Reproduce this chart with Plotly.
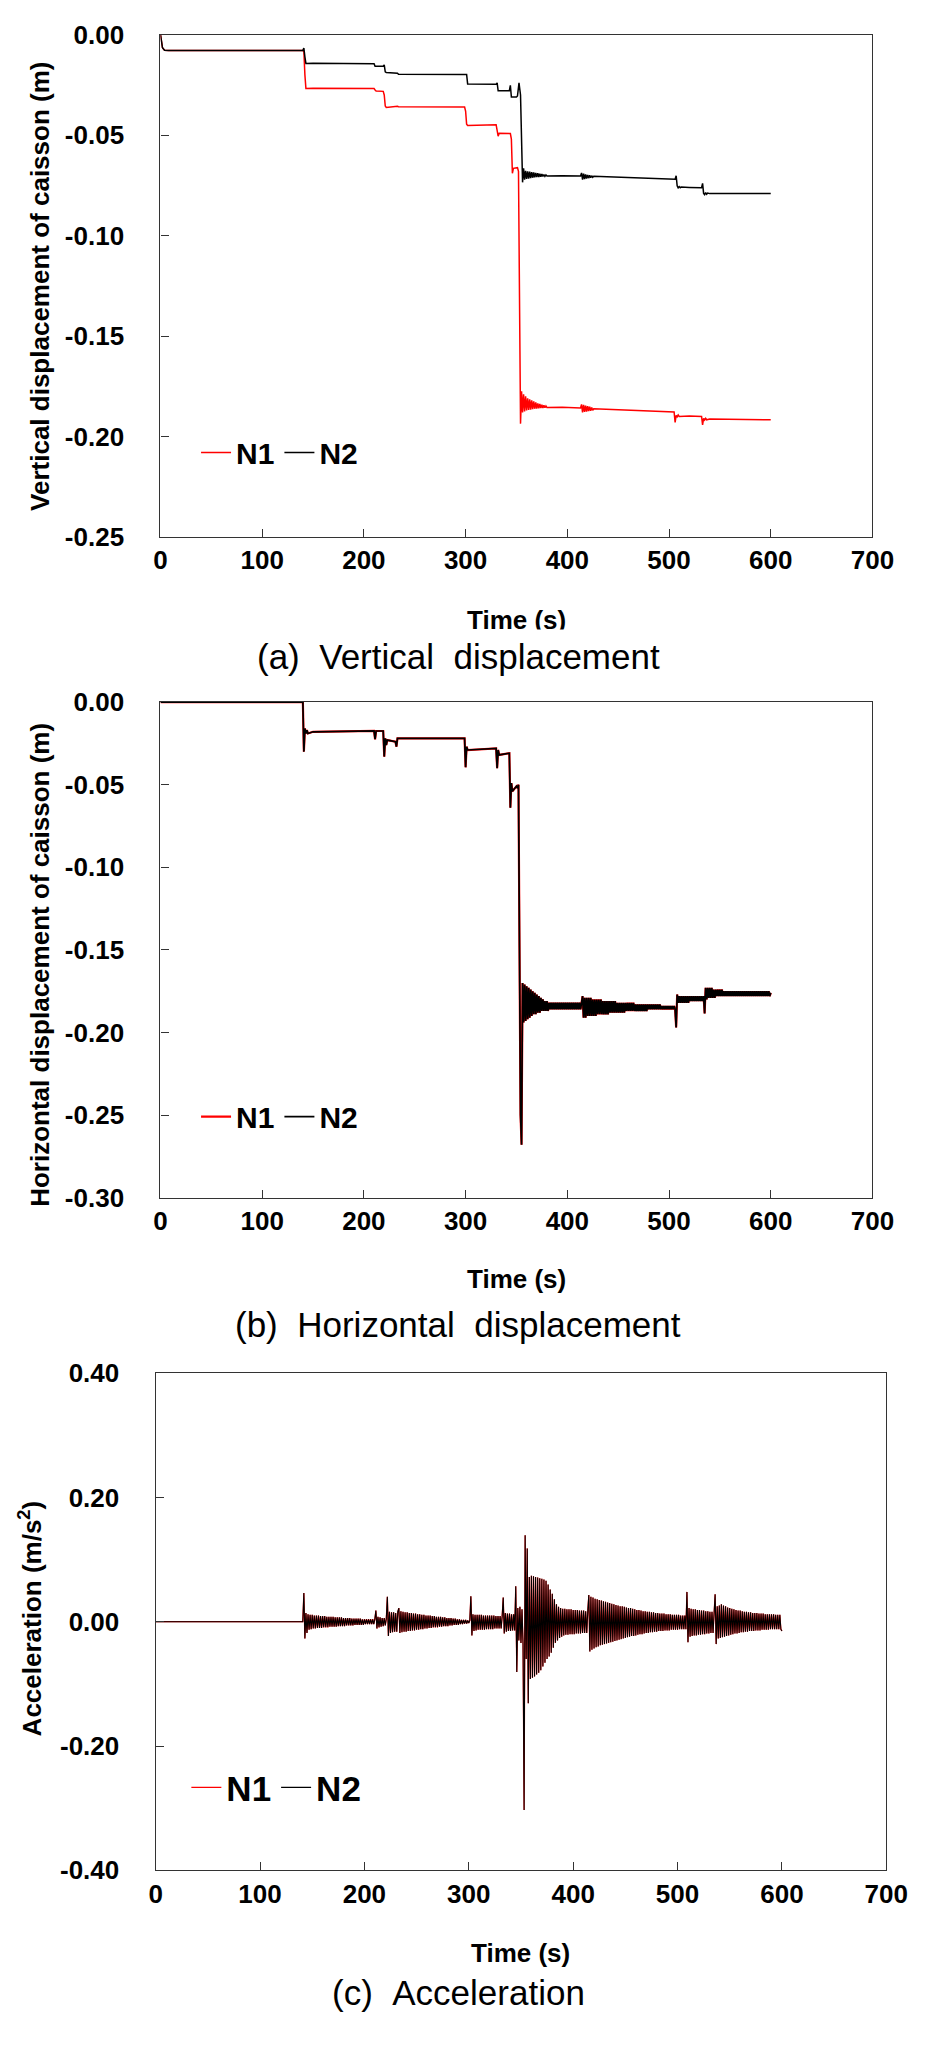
import plotly.graph_objects as go

# ---------------- data ----------------
time_ticks = [0, 100, 200, 300, 400, 500, 600, 700]
time_ticktext = ["0", "100", "200", "300", "400", "500", "600", "700"]

vert_ticks = [0.0, -0.05, -0.10, -0.15, -0.20, -0.25]
vert_ticktext = ["0.00", "-0.05", "-0.10", "-0.15", "-0.20", "-0.25"]
horiz_ticks = [0.0, -0.05, -0.10, -0.15, -0.20, -0.25, -0.30]
horiz_ticktext = ["0.00", "-0.05", "-0.10", "-0.15", "-0.20", "-0.25", "-0.30"]
acc_ticks = [0.40, 0.20, 0.0, -0.20, -0.40]
acc_ticktext = ["0.40", "0.20", "0.00", "-0.20", "-0.40"]

# (a) vertical displacement, N1 (red)
vert_n1_time = ([0, 1, 2, 4, 8, 140, 141, 142, 143, 150, 210, 211, 212, 219, 220, 221, 222,
                 233, 234, 299, 300, 301, 302, 330, 331, 332, 333, 344, 345, 346, 347, 351, 352,
                 353, 354] + list(range(355, 381)) + [395, 413] + list(range(414, 427)) +
                [450, 480, 505, 506, 507, 508, 509, 510, 520, 532, 533, 534, 535, 536, 537,
                 540, 560, 580, 600])
vert_n1 = [0, -0.003, -0.0065, -0.0077, -0.0078, -0.0078, -0.0085, -0.0200, -0.0268, -0.0266,
           -0.0268, -0.0275, -0.0280, -0.0282, -0.0300, -0.0355, -0.0362, -0.0356, -0.0358,
           -0.0360, -0.0380, -0.0445, -0.0452, -0.0448, -0.0470, -0.0505, -0.0490, -0.0492,
           -0.0520, -0.0690, -0.0665, -0.0662, -0.0680,
           -0.150, -0.1936,
           -0.1775, -0.1880, -0.1790, -0.1875, -0.1800, -0.1870, -0.1810, -0.1868, -0.1815,
           -0.1866, -0.1820, -0.1864, -0.1825, -0.1862, -0.1830, -0.1861, -0.1835, -0.1860,
           -0.1838, -0.1859, -0.1842, -0.1858, -0.1845, -0.1857, -0.1848, -0.1856,
           -0.1855, -0.1858,
           -0.1840, -0.1880, -0.1843, -0.1878, -0.1846, -0.1876, -0.1849, -0.1874, -0.1852,
           -0.1872, -0.1856, -0.1870, -0.1862,
           -0.1866, -0.1872, -0.1878, -0.1930, -0.1895, -0.1902, -0.1893, -0.1900, -0.1898,
           -0.1900, -0.1942, -0.1910, -0.1918, -0.1910, -0.1917, -0.1913, -0.1915, -0.1916,
           -0.1917]

# (a) vertical displacement, N2 (black)
vert_n2_time = ([0, 1, 2, 4, 8, 140, 141, 142, 143, 150, 210, 211, 219, 220, 221, 222, 233, 234,
                 300, 301, 302, 330, 331, 332, 343, 344, 345, 350, 351, 352.5, 354, 355]
                + list(range(356, 381)) + [395, 413] + list(range(414, 427)) +
                [450, 480, 505, 506, 507, 508, 509, 510, 511, 512, 520, 532, 533, 534, 535,
                 536, 537, 538, 540, 560, 580, 600])
vert_n2 = [0, -0.003, -0.0065, -0.0077, -0.0078, -0.0078, -0.0066, -0.0110, -0.0143, -0.0142,
           -0.0144, -0.0157, -0.0157, -0.0150, -0.0185, -0.0188, -0.0192, -0.0197, -0.0200,
           -0.0198, -0.0245, -0.0247, -0.0240, -0.0279, -0.0279, -0.0252, -0.0310, -0.0310,
           -0.0305, -0.0240, -0.0300, -0.0500,
           -0.0735, -0.0665, -0.0722, -0.0678, -0.0718, -0.0680, -0.0716, -0.0682, -0.0714,
           -0.0684, -0.0712, -0.0686, -0.0710, -0.0688, -0.0709, -0.0690, -0.0708, -0.0692,
           -0.0707, -0.0694, -0.0706, -0.0696, -0.0705, -0.0698, -0.0703,
           -0.0702, -0.0703,
           -0.0688, -0.0722, -0.0692, -0.0719, -0.0695, -0.0716, -0.0698, -0.0714, -0.0700,
           -0.0712, -0.0702, -0.0710, -0.0705,
           -0.0710, -0.0714, -0.0718, -0.0719, -0.0702, -0.0752, -0.0762, -0.0756, -0.0762,
           -0.0758, -0.0760, -0.0762, -0.0740, -0.0790, -0.0796, -0.0786, -0.0794, -0.0788,
           -0.0791, -0.0790, -0.0790, -0.0791]

# (b) horizontal displacement (N1 and N2 coincide in the reference)
horiz_time = ([0, 140, 141, 142, 143, 144, 145, 150, 210, 211, 212, 219, 220, 221, 222, 223,
               231, 232, 233, 299, 300, 301, 302, 330, 331, 332, 333, 343, 344, 345, 346,
               350, 351, 352, 353, 354] + list(range(355, 601)))
horiz_n1 = [0, 0, -0.030, -0.016, -0.019, -0.017, -0.019, -0.018, -0.0175, -0.0225, -0.0175,
            -0.0175, -0.033, -0.022, -0.026, -0.023, -0.024, -0.027, -0.022, -0.022, -0.0395,
            -0.027, -0.029, -0.028, -0.040, -0.029, -0.032, -0.031, -0.064, -0.049, -0.054,
            -0.051, -0.052, -0.050, -0.150, -0.250,
            -0.268, -0.170, -0.194, -0.171, -0.193, -0.172, -0.192, -0.173, -0.191, -0.174,
            -0.190, -0.175, -0.189, -0.176, -0.189, -0.177, -0.188, -0.178, -0.188, -0.179,
            -0.187, -0.180, -0.187, -0.181, -0.187, -0.181, -0.187, -0.182, -0.186, -0.182,
            -0.186, -0.182, -0.186, -0.182, -0.186, -0.182, -0.186, -0.182, -0.186, -0.182,
            -0.186, -0.182, -0.186, -0.182, -0.186, -0.182, -0.186, -0.182, -0.186, -0.182,
            -0.186, -0.182, -0.186, -0.182, -0.186, -0.182, -0.186, -0.182, -0.186, -0.182,
            -0.178, -0.191, -0.179, -0.191, -0.179, -0.190, -0.179, -0.190, -0.179, -0.190,
            -0.180, -0.190, -0.180, -0.190, -0.180, -0.189, -0.180, -0.189, -0.180, -0.189,
            -0.181, -0.189, -0.181, -0.189, -0.181, -0.189, -0.181, -0.188, -0.181, -0.188,
            -0.181, -0.188, -0.181, -0.188, -0.182, -0.188, -0.182, -0.188, -0.182, -0.188,
            -0.182, -0.188, -0.182, -0.187, -0.182, -0.187, -0.182, -0.187, -0.182, -0.187,
            -0.182, -0.187, -0.183, -0.187, -0.183, -0.187, -0.183, -0.187, -0.183, -0.187,
            -0.183, -0.187, -0.183, -0.187, -0.183, -0.186, -0.183, -0.186, -0.183, -0.186,
            -0.183, -0.186, -0.183, -0.186, -0.183, -0.186, -0.183, -0.186, -0.184, -0.186,
            -0.184, -0.186, -0.184, -0.186, -0.184, -0.186, -0.184, -0.186, -0.184, -0.186,
            -0.184, -0.186, -0.197, -0.177, -0.182, -0.178, -0.182, -0.178, -0.182, -0.178,
            -0.182, -0.178, -0.182, -0.178, -0.182, -0.178, -0.181, -0.178, -0.181, -0.178,
            -0.181, -0.178, -0.181, -0.178, -0.181, -0.178, -0.181, -0.178, -0.181, -0.178,
            -0.1885, -0.173, -0.180, -0.173, -0.179, -0.173, -0.179, -0.173, -0.179, -0.174,
            -0.179, -0.174, -0.178, -0.174, -0.178, -0.174, -0.178, -0.174, -0.178, -0.175,
            -0.178, -0.175, -0.178, -0.175, -0.178, -0.175, -0.178, -0.175, -0.178, -0.175,
            -0.178, -0.175, -0.178, -0.175, -0.178, -0.175, -0.178, -0.175, -0.178, -0.175,
            -0.178, -0.175, -0.178, -0.175, -0.178, -0.175, -0.178, -0.175, -0.178, -0.175,
            -0.178, -0.175, -0.178, -0.175, -0.178, -0.175, -0.178, -0.175, -0.178, -0.175,
            -0.178, -0.175, -0.178, -0.175, -0.178, -0.176]
horiz_n2 = list(horiz_n1)

# (c) acceleration (N1 and N2 coincide in the reference)
acc_time = [0, 140] + list(range(141, 601))
acc_n1 = [0.0, 0.0,
          0.000, 0.046, -0.027, 0.014, -0.018, 0.012, -0.013, 0.011, -0.012, 0.011,
          -0.011, 0.010, -0.011, 0.010, -0.010, 0.010, -0.010, 0.009, -0.010, 0.009,
          -0.009, 0.009, -0.009, 0.008, -0.009, 0.008, -0.008, 0.008, -0.008, 0.008,
          -0.008, 0.007, -0.008, 0.007, -0.007, 0.007, -0.007, 0.007, -0.007, 0.006,
          -0.007, 0.006, -0.006, 0.006, -0.006, 0.006, -0.006, 0.005, -0.006, 0.005,
          -0.005, 0.005, -0.005, 0.005, -0.005, 0.005, -0.005, 0.004, -0.005, 0.004,
          -0.004, 0.004, -0.004, 0.004, -0.004, 0.004, -0.004, 0.004, -0.004, 0.004,
          0.018, -0.011, 0.008, -0.009, 0.007, -0.008, 0.006, -0.007, 0.006, -0.006,
          0.005, 0.040, -0.023, 0.016, -0.018, 0.015, -0.017, 0.015, -0.016, 0.014,
          -0.016, 0.016, 0.022, -0.018, 0.017, -0.017, 0.016, -0.016, 0.015, -0.016,
          0.015, -0.015, 0.014, -0.015, 0.014, -0.014, 0.013, -0.014, 0.013, -0.013,
          0.012, -0.013, 0.012, -0.012, 0.011, -0.012, 0.011, -0.011, 0.010, -0.011,
          0.010, -0.010, 0.010, -0.010, 0.009, -0.009, 0.009, -0.009, 0.008, -0.009,
          0.008, -0.008, 0.008, -0.008, 0.007, -0.007, 0.007, -0.007, 0.006, -0.007,
          0.006, -0.006, 0.006, -0.006, 0.005, -0.005, 0.005, -0.005, 0.004, -0.005,
          0.004, -0.004, 0.003, -0.004, 0.003, -0.003, 0.003, -0.003, 0.002, -0.002,
          0.002, 0.041, -0.022, 0.012, -0.015, 0.011, -0.014, 0.011, -0.013, 0.011,
          -0.013, 0.011, -0.013, 0.010, -0.013, 0.010, -0.012, 0.010, -0.012, 0.010,
          -0.012, 0.010, -0.012, 0.010, -0.011, 0.009, -0.011, 0.009, -0.011, 0.009,
          -0.011, 0.009, 0.039, -0.019, 0.014, -0.016, 0.013, -0.015, 0.013, -0.015,
          0.012, -0.014, 0.012, -0.014, 0.057, -0.081, 0.022, -0.030, 0.024, -0.034,
          0.020, -0.036, -0.303, 0.139, -0.060, 0.118, -0.131, 0.072, -0.092, 0.074,
          -0.090, 0.073, -0.088, 0.072, -0.085, 0.071, -0.082, 0.070, -0.078, 0.069,
          -0.072, 0.068, -0.066, 0.066, -0.060, 0.060, -0.056, 0.052, -0.050, 0.045,
          -0.042, 0.036, -0.034, 0.028, -0.030, 0.024, -0.026, 0.022, -0.024, 0.021,
          -0.022, 0.021, -0.021, 0.020, -0.021, 0.020, -0.020, 0.020, -0.020, 0.019,
          -0.020, 0.019, -0.019, 0.019, -0.019, 0.018, -0.019, 0.018, -0.018, 0.018,
          -0.018, 0.017, -0.018, 0.017, 0.043, -0.048, 0.040, -0.045, 0.039, -0.043,
          0.037, -0.041, 0.036, -0.040, 0.035, -0.038, 0.034, -0.037, 0.033, -0.036,
          0.032, -0.035, 0.031, -0.034, 0.030, -0.033, 0.029, -0.032, 0.028, -0.031,
          0.027, -0.030, 0.026, -0.029, 0.025, -0.028, 0.025, -0.027, 0.024, -0.026,
          0.023, -0.025, 0.022, -0.024, 0.022, -0.023, 0.021, -0.023, 0.020, -0.022,
          0.019, -0.021, 0.019, -0.020, 0.018, -0.020, 0.017, -0.019, 0.017, -0.018,
          0.016, -0.018, 0.016, -0.017, 0.015, -0.017, 0.015, -0.016, 0.014, -0.016,
          0.014, -0.015, 0.013, -0.015, 0.013, -0.015, 0.013, -0.014, 0.012, -0.014,
          0.012, -0.014, 0.012, -0.013, 0.011, -0.013, 0.011, -0.013, 0.011, -0.013,
          0.011, -0.012, 0.010, -0.012, 0.010, -0.012, 0.010, -0.012, 0.048, -0.033,
          0.022, -0.024, 0.021, -0.023, 0.020, -0.022, 0.020, -0.022, 0.019, -0.021,
          0.019, -0.021, 0.018, -0.020, 0.018, -0.020, 0.017, -0.019, 0.017, -0.019,
          0.016, -0.018, 0.016, -0.018, 0.015, 0.044, -0.036, 0.025, -0.027, 0.026,
          -0.026, 0.028, -0.025, 0.026, -0.024, 0.025, -0.023, 0.023, -0.022, 0.022,
          -0.021, 0.021, -0.020, 0.020, -0.019, 0.019, -0.019, 0.018, -0.018, 0.018,
          -0.017, 0.017, -0.017, 0.016, -0.016, 0.016, -0.016, 0.015, -0.015, 0.015,
          -0.015, 0.014, -0.015, 0.014, -0.014, 0.014, -0.014, 0.013, -0.014, 0.013,
          -0.013, 0.013, -0.013, 0.012, -0.013, 0.012, -0.013, 0.012, -0.012, 0.012,
          -0.012, 0.012, -0.012, 0.011, -0.012, 0.011, -0.012, 0.011, -0.012, -0.015]
acc_n2 = list(acc_n1)

assert len(vert_n1_time) == len(vert_n1), (len(vert_n1_time), len(vert_n1))
assert len(vert_n2_time) == len(vert_n2), (len(vert_n2_time), len(vert_n2))
assert len(horiz_time) == len(horiz_n1), (len(horiz_time), len(horiz_n1))
assert len(acc_time) == len(acc_n1), (len(acc_time), len(acc_n1))

# ---------------- styling ----------------
W, H = 950, 2045
FONT = "Liberation Sans, Arial, Helvetica, sans-serif"
RED, BLACK, AXIS = "#ff0000", "#000000", "#333333"


def X(px):
    return px / W


def Y(px):
    return 1 - px / H


tick_font = dict(family=FONT, size=26, color="black", weight="bold")
axis_style = dict(showline=True, linecolor=AXIS, linewidth=1.3, mirror=True,
                  ticks="inside", ticklen=8, tickwidth=1.3, tickcolor=AXIS,
                  showgrid=False, zeroline=False, tickfont=tick_font)

fig = go.Figure()

# panel (a)
fig.add_trace(go.Scatter(x=vert_n1_time, y=vert_n1, mode="lines", name="N1",
                         line=dict(color=RED, width=1.5), xaxis="x", yaxis="y", legend="legend"))
fig.add_trace(go.Scatter(x=vert_n2_time, y=vert_n2, mode="lines", name="N2",
                         line=dict(color=BLACK, width=1.5), xaxis="x", yaxis="y", legend="legend"))
# panel (b)
fig.add_trace(go.Scatter(x=horiz_time, y=horiz_n1, mode="lines", name="N1",
                         line=dict(color=RED, width=2.2), xaxis="x2", yaxis="y2", legend="legend2"))
fig.add_trace(go.Scatter(x=horiz_time, y=horiz_n2, mode="lines", name="N2",
                         line=dict(color=BLACK, width=1.7), xaxis="x2", yaxis="y2", legend="legend2"))
# panel (c)
fig.add_trace(go.Scatter(x=acc_time, y=acc_n1, mode="lines", name="N1",
                         line=dict(color=RED, width=1.25), xaxis="x3", yaxis="y3", legend="legend3"))
fig.add_trace(go.Scatter(x=acc_time, y=acc_n2, mode="lines", name="N2",
                         line=dict(color=BLACK, width=1.05), xaxis="x3", yaxis="y3", legend="legend3"))


def xcfg(left, right, anchor):
    return dict(domain=[X(left), X(right)], anchor=anchor, range=[0, 700],
                tickmode="array", tickvals=time_ticks, ticktext=time_ticktext,
                ticklabelstandoff=0, **axis_style)


def ycfg(top, bottom, anchor, rng, vals, text):
    return dict(domain=[Y(bottom), Y(top)], anchor=anchor, range=rng,
                tickmode="array", tickvals=vals, ticktext=text,
                ticklabelstandoff=30, **axis_style)


def legend_cfg(x, y, size):
    return dict(x=x, y=y, xanchor="left", yanchor="middle", orientation="h",
                bgcolor="rgba(0,0,0,0)", borderwidth=0, itemwidth=30,
                font=dict(family=FONT, size=size, color="black", weight="bold"))


title_font = dict(family=FONT, size=26, color="black", weight="bold")
cap_font = dict(family=FONT, size=35, color="black")
NB = "\u00a0"

annotations = [
    # axis titles
    dict(text="Time (s)", x=X(525.5), y=Y(614), font=title_font),
    dict(text="Time (s)", x=X(525.5), y=Y(1283), font=title_font),
    dict(text="Time (s)", x=X(530), y=Y(1967), font=title_font),
    dict(text="Vertical displacement of caisson (m)", x=X(34), y=Y(275), textangle=-90, font=title_font),
    dict(text="Horizontal displacement of caisson (m)", x=X(34), y=Y(964), textangle=-90, font=title_font),
    dict(text="Acceleration (m/s<sup>2</sup>)", x=X(24), y=Y(1627), textangle=-90, font=title_font),
    # captions
    dict(text=f"(a){NB}{NB}Vertical{NB}{NB}displacement", x=X(466), y=Y(651), font=cap_font,
         bgcolor="white", borderpad=7),
    dict(text=f"(b){NB}{NB}Horizontal{NB}{NB}displacement", x=X(465), y=Y(1329), font=cap_font),
    dict(text=f"(c){NB}{NB}Acceleration", x=X(466), y=Y(2007), font=cap_font),
]
for a in annotations:
    a.update(xref="paper", yref="paper", showarrow=False, xanchor="center", yanchor="middle")

fig.update_layout(
    width=W, height=H, margin=dict(l=0, r=0, t=0, b=0),
    paper_bgcolor="white", plot_bgcolor="white", showlegend=True,
    xaxis=xcfg(158.3, 892.7, "y"),
    yaxis=ycfg(20, 529.7, "x", [-0.25, 0], vert_ticks, vert_ticktext),
    xaxis2=xcfg(158.3, 892.7, "y2"),
    yaxis2=ycfg(697.3, 1200.3, "x2", [-0.30, 0], horiz_ticks, horiz_ticktext),
    xaxis3=xcfg(153.3, 907, "y3"),
    yaxis3=ycfg(1378.3, 1883, "x3", [-0.40, 0.40], acc_ticks, acc_ticktext),
    legend=legend_cfg(X(195), Y(444), 30),
    legend2=legend_cfg(X(195), Y(1118), 30),
    legend3=legend_cfg(X(185), Y(1799), 35),
    annotations=annotations,
)

fig.write_html("out.html")
